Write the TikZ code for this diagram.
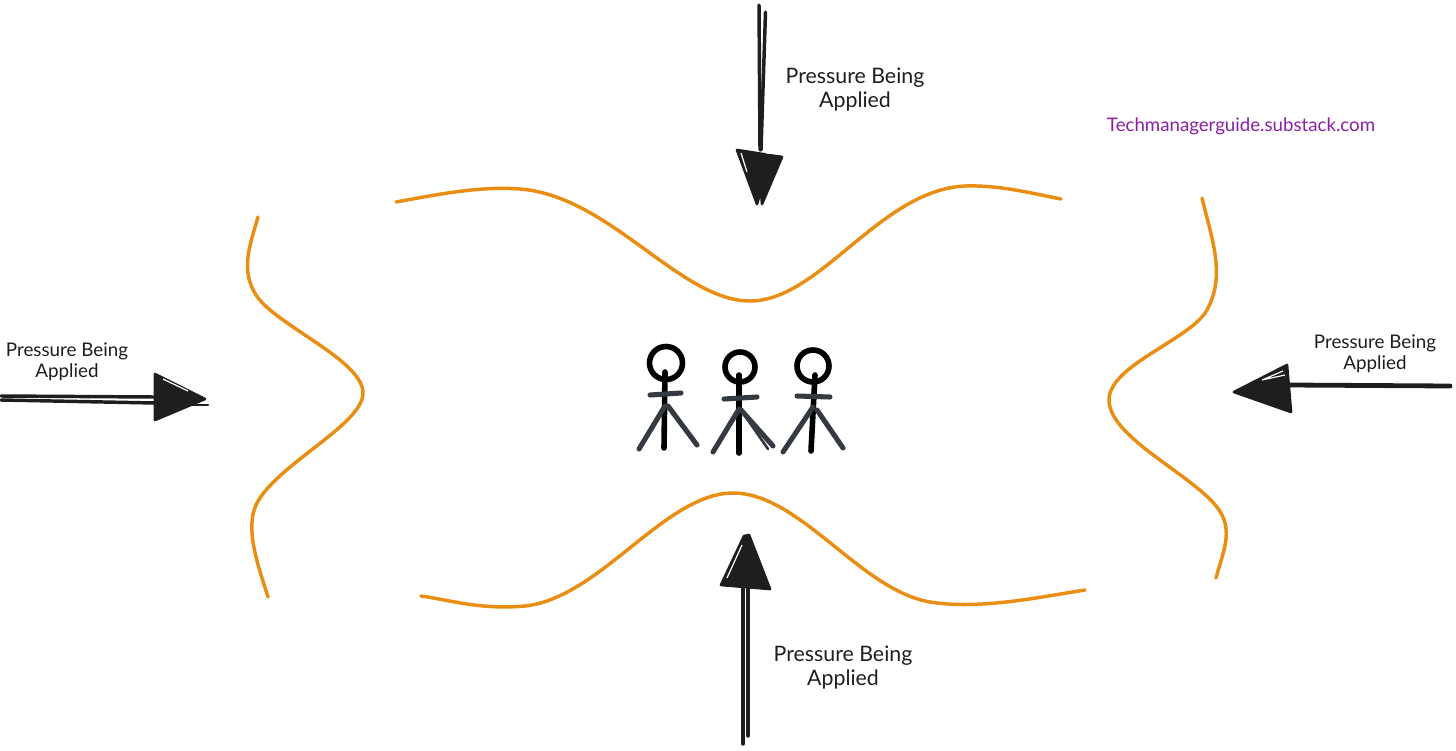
\documentclass[tikz,border=0pt]{standalone}
\usepackage{fontspec}
\setmainfont{Lato}
\definecolor{wallorange}{HTML}{E98D13}
\definecolor{inkblack}{HTML}{1E1E1E}
\definecolor{limbgray}{HTML}{343A40}
\definecolor{linkpurple}{HTML}{8A1FA8}
\tikzset{every picture/.style={line width=0.75pt}}
\tikzset{
  wall/.style={draw=wallorange,line width=2.6pt,line cap=round},
  shaft/.style={draw=inkblack,line width=2.6pt,line cap=round},
  headfill/.style={fill=inkblack,draw=inkblack,line width=2pt,line join=round},
  slit/.style={draw=white,line width=0.9pt},
  stickhead/.style={draw=black,line width=4.2pt},
  stickbody/.style={draw=black,line width=4.2pt,line cap=round},
  sticklimb/.style={draw=limbgray,line width=3.8pt,line cap=round},
  pressurelabel/.style={inner sep=0.75pt,align=center,text=inkblack,font=\fontsize{16}{18}\selectfont},
  smalllabel/.style={pressurelabel,font=\fontsize{14.1}{15.6}\selectfont}
}
\begin{document}
\begin{tikzpicture}[x=0.75pt,y=0.75pt,yscale=-1,xscale=1]
    \useasboundingbox (0,0) rectangle (1456,750);

    %Curve: top wall
    \draw [wall] (396,202) .. controls (440,194) and (480,186) .. (520,189) .. controls (610,196) and (680,301) .. (750,301) .. controls (820,301) and (880,190) .. (965,186) .. controls (1000,185) and (1030,193) .. (1061,199);
    %Curve: bottom wall
    \draw [wall] (421,596) .. controls (450,600) and (480,610) .. (525,606) .. controls (600,598) and (665,493) .. (733,493) .. controls (800,493) and (860,590) .. (930,602) .. controls (980,610) and (1040,597) .. (1085,590);
    %Curve: left wall
    \draw [wall] (258,217) .. controls (250,245) and (240,270) .. (256,295) .. controls (275,325) and (363,360) .. (363,393) .. controls (363,425) and (275,465) .. (256,505) .. controls (245,530) and (258,565) .. (268,597);
    %Curve: right wall
    \draw [wall] (1202,198) .. controls (1212,240) and (1226,275) .. (1207,310) .. controls (1190,340) and (1109,365) .. (1109,400) .. controls (1109,440) and (1205,480) .. (1222,515) .. controls (1232,535) and (1222,555) .. (1216,578);

    %Arrow: top
    \draw [shaft] (759,5) -- (760,150);
    \draw [shaft] (765.5,12) -- (761,150);
    \draw [headfill] (737,150) -- (782,157) -- (762,204) -- (761,190) -- (757,204) -- cycle;
    \draw [slit] (741,153) -- (747,172);
    \draw [slit] (766,153) -- (779,154);
    %Arrow: left
    \draw [shaft] (1,396) -- (155,397);
    \draw [shaft] (1,400) -- (155,403);
    \draw [headfill] (155,374) -- (205,399) -- (155,420) -- cycle;
    \draw [shaft,line width=1.6pt] (180,405) -- (208,405);
    \draw [slit] (163,379) -- (188,391);
    %Arrow: right
    \draw [shaft,line width=3.6pt] (1450,386) -- (1290,385);
    \draw [headfill] (1287,365) -- (1291,412) -- (1234,392) -- cycle;
    \draw [slit] (1283,371) -- (1262,380) -- (1285,375);
    %Arrow: bottom
    \draw [shaft] (743,744) -- (743,585);
    \draw [shaft] (748,736) -- (748,585);
    \draw [headfill] (721,585) -- (744,536) -- (749,535) -- (770,589) -- cycle;
    \draw [slit] (727,578) -- (742,545);

    %Stick figure: left
    \draw [stickhead] (666,363) circle (16.5);
    \draw [stickbody] (665,372) -- (664,448);
    \draw [sticklimb] (650,395) -- (681,393);
    \draw [sticklimb] (665,406) -- (639,449);
    \draw [sticklimb] (668,406) -- (697,445);
    %Stick figure: middle
    \draw [stickhead] (740,367) circle (15);
    \draw [stickbody] (739,375) -- (739,453);
    \draw [sticklimb] (724,399) -- (757,397);
    \draw [sticklimb] (739,409) -- (713,452);
    \draw [sticklimb] (741,410) -- (773,446);
    \draw [sticklimb,line width=2pt] (741,410) -- (768,449);
    %Stick figure: right
    \draw [stickhead] (813,366) circle (16);
    \draw [stickbody] (815,375) -- (811,451);
    \draw [sticklimb] (797,396) -- (830,397);
    \draw [sticklimb] (813,407) -- (783,452);
    \draw [sticklimb] (817,410) -- (843,448);

    % Text Node
    \node (toplabel) [pressurelabel] at (855,90) {Pressure Being\\Applied};
    % Text Node
    \node (leftlabel) [smalllabel] at (67,362) {Pressure Being\\Applied};
    % Text Node
    \node (rightlabel) [smalllabel] at (1375,354) {Pressure Being\\Applied};
    % Text Node
    \node (bottomlabel) [pressurelabel] at (843,668) {Pressure Being\\Applied};
    % Text Node
    \node (sitelabel) [inner sep=0.75pt,text=linkpurple,font=\fontsize{14}{16}\selectfont] at (1241,126) {Techmanagerguide.substack.com};
\end{tikzpicture}
\end{document}
